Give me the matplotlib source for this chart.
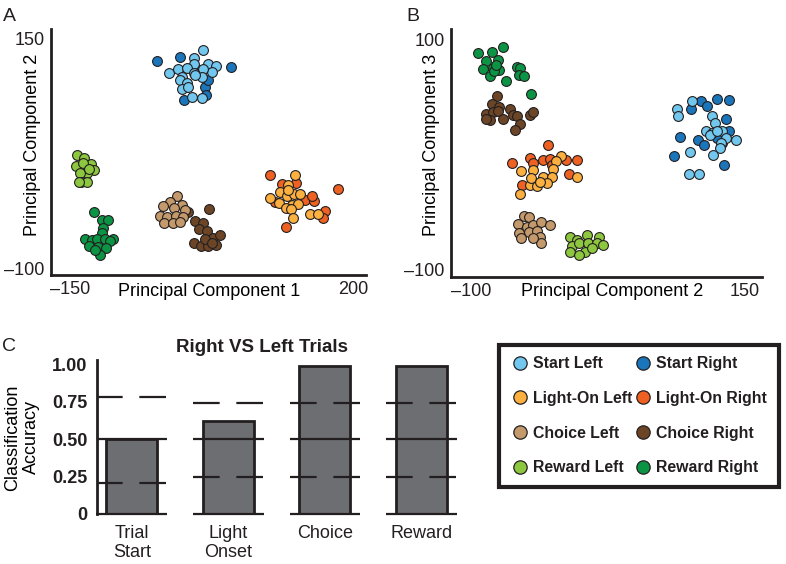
import matplotlib
matplotlib.use("Agg")
import numpy as np
import matplotlib.pyplot as plt
from matplotlib.lines import Line2D

ink = '#231f20'
plt.rcParams['font.family'] = ['Liberation Sans', 'DejaVu Sans']
plt.rcParams['text.color'] = ink
plt.rcParams['axes.edgecolor'] = ink
plt.rcParams['xtick.color'] = ink
plt.rcParams['ytick.color'] = ink
plt.rcParams['lines.scale_dashes'] = False

# condition names and colours (Left / Right pairs)
conditions = ['Start', 'Light-On', 'Choice', 'Reward']
left_colors = ['#72c7ef', '#fbb040', '#c49a6c', '#8dc63f']
right_colors = ['#1b75bb', '#ef6123', '#6b4526', '#0b9444']

# panel A: PC1 vs PC2  (x, y) per trial
a_start_left = [(14, 137), (3, 128), (3, 122), (21, 122), (31, 120), (25, 113), (-28, 112), (-16, 116),
                (-6, 117), (15, 116), (-12, 108), (3, 112), (-14, 104), (-6, 101), (-12, 95), (-4, 97),
                (13, 108), (1, 86), (13, 85), (5, 110)]
a_start_right = [(-42, 125), (-14, 129), (49, 119), (17, 97), (18, 88), (-9, 83), (8, 115), (21, 104)]
a_light_left = [(128, 1), (119, -10), (110, -17), (97, -24), (108, -29), (118, -22), (127, -20), (134, -20),
                (125, -31), (132, -30), (117, -35), (123, -36), (126, -46), (147, -41), (157, -41), (120, -15)]
a_light_right = [(97, 1), (182, -14), (117, -55), (112, -9), (130, -8), (141, -26), (152, -27), (165, -38),
                 (163, -46), (104, -28), (149, -22)]
a_choice_left = [(-18, -22), (-26, -28), (-12, -31), (-35, -33), (-22, -35), (-8, -37), (-39, -43),
                 (-30, -45), (-19, -43), (-10, -45), (-34, -51), (-23, -51), (-14, -50)]
a_choice_right = [(-4, -39), (22, -36), (5, -49), (14, -51), (10, -58), (19, -60), (27, -67), (35, -64),
                  (3, -73), (12, -76), (21, -76), (31, -75), (17, -68), (25, -73)]
a_reward_left = [(-142, 23), (-133, 20), (-124, 13), (-121, 7), (-143, 11), (-134, 14), (-129, 3),
                 (-138, 3), (-137, -6), (-129, -6), (-139, -7), (-127, 8)]
a_reward_right = [(-121, -39), (-111, -48), (-103, -48), (-109, -56), (-110, -62), (-131, -69), (-123, -70),
                  (-117, -68), (-107, -68), (-97, -68), (-101, -71), (-127, -76), (-115, -77), (-105, -78),
                  (-113, -86), (-119, -80)]

# panel B: PC2 vs PC3
b_start_left = [(102, 46), (88, 39), (89, 33), (120, 33), (123, 27), (114, 20), (120, 18), (129, 20),
                (118, 17), (133, 14), (142, 12), (128, 10), (127, 5), (100, 2), (121, -1), (99, -17),
                (108, -17), (124, 20)]
b_start_right = [(110, 46), (115, 42), (124, 48), (135, 47), (101, 39), (133, 31), (91, 15), (107, 12),
                 (113, 8), (85, -2), (131, -9), (135, 20), (124, 14), (129, 10)]
b_light_left = [(-18, -2), (-22, -6), (-54, -15), (-43, -14), (-34, -20), (-25, -13), (-26, -20), (-3, -20),
                (-46, -27), (-40, -28), (-31, -25), (-55, -35), (-45, -21), (-37, -24)]
b_light_right = [(-30, 8), (-63, -8), (-46, -3), (-34, -5), (-28, -4), (-13, -5), (-3, -5), (-11, -17),
                 (-53, -27), (-26, -9), (-43, -8)]
b_choice_left = [(-52, -54), (-47, -55), (-57, -61), (-49, -63), (-43, -62), (-36, -59), (-28, -62),
                 (-56, -69), (-47, -68), (-40, -67), (-54, -73), (-37, -72), (-36, -77), (-43, -73)]
b_choice_right = [(-76, 51), (-81, 44), (-74, 41), (-86, 35), (-80, 37), (-83, 30), (-75, 38), (-71, 31),
                  (-64, 39), (-62, 34), (-58, 33), (-55, 26), (-60, 21), (-46, 34), (-43, 37), (-86, 31)]
b_reward_left = [(-10, -72), (-3, -75), (6, -70), (17, -72), (-8, -80), (-1, -77), (7, -77), (15, -77),
                 (20, -79), (-10, -85), (4, -85), (-1, -88), (10, -82)]
b_reward_right = [(-94, 88), (-81, 89), (-71, 93), (-86, 81), (-75, 82), (-89, 74), (-80, 75), (-74, 73),
                  (-83, 68), (-79, 72), (-68, 64), (-58, 76), (-55, 75), (-56, 69), (-52, 68), (-45, 52),
                  (-77, 78)]

panel_a_left = [a_start_left, a_light_left, a_choice_left, a_reward_left]
panel_a_right = [a_start_right, a_light_right, a_choice_right, a_reward_right]
panel_b_left = [b_start_left, b_light_left, b_choice_left, b_reward_left]
panel_b_right = [b_start_right, b_light_right, b_choice_right, b_reward_right]

# panel C: classification accuracy
epochs = ['Trial\nStart', 'Light\nOnset', 'Choice', 'Reward']
accuracy = [0.50, 0.62, 0.99, 0.99]
chance_lo = [0.21, 0.25, 0.25, 0.25]
chance_hi = [0.785, 0.745, 0.745, 0.745]

fig = plt.figure(figsize=(7.86, 5.64), dpi=100)


def scatter_panel(ax, lefts, rights):
    for i in range(len(conditions)):
        r = np.array(rights[i])
        l = np.array(lefts[i])
        ax.scatter(r[:, 0], r[:, 1], s=50, c=right_colors[i], edgecolors=ink, linewidths=0.8, zorder=2)
        ax.scatter(l[:, 0], l[:, 1], s=50, c=left_colors[i], edgecolors=ink, linewidths=0.8, zorder=2)
    for side in ['top', 'right']:
        ax.spines[side].set_visible(False)
    for side in ['left', 'bottom']:
        ax.spines[side].set_linewidth(2)
    ax.tick_params(length=0, labelsize=13, pad=4.5)


# ---- A
ax_a = fig.add_axes([0.0645, 0.5124, 0.4011, 0.4362])
scatter_panel(ax_a, panel_a_left, panel_a_right)
ax_a.set_xlim(-174, 216)
ax_a.set_ylim(-107.6, 159.8)
ax_a.set_xticks([-150, 200], ['\u2013150', '200'])
ax_a.set_yticks([-100, 150], ['\u2013100', '150'])
ax_a.set_xlabel('Principal Component 1', fontsize=13, va='center')
ax_a.xaxis.set_label_coords(0.502, -0.068)
ax_a.set_ylabel('Principal Component 2', fontsize=13, va='center')
ax_a.yaxis.set_label_coords(-0.0593, 0.528)

# ---- B
ax_b = fig.add_axes([0.5738, 0.5094, 0.3953, 0.4392])
scatter_panel(ax_b, panel_b_left, panel_b_right)
ax_b.set_xlim(-118.2, 165.2)
ax_b.set_ylim(-106.7, 109)
ax_b.set_xticks([-100, 150], ['\u2013100', '150'])
ax_b.set_yticks([-100, 100], ['\u2013100', '100'])
ax_b.set_xlabel('Principal Component 2', fontsize=13, va='center')
ax_b.xaxis.set_label_coords(0.517, -0.061)
ax_b.set_ylabel('Principal Component 3', fontsize=13, va='center')
ax_b.yaxis.set_label_coords(-0.062, 0.532)

# ---- C
ax_c = fig.add_axes([0.123, 0.0887, 0.4622, 0.273])
x = np.arange(len(epochs))
ax_c.bar(x, accuracy, width=0.53, color='#6d6e71', edgecolor=ink, linewidth=2, zorder=2)
half = 0.365
ax_c.hlines([0] * len(x), x - half, x + half, colors=ink, linewidth=1.6, zorder=3, clip_on=False)
ax_c.hlines([0.5] * len(x), x - half, x + half, colors=ink, linewidth=1.6, zorder=3)
ax_c.hlines(chance_lo, x - half, x + half, colors=ink, linewidth=1.6, zorder=3,
            linestyles=[(0, (19.2, 12.0))])
ax_c.hlines(chance_hi, x - half, x + half, colors=ink, linewidth=1.6, zorder=3,
            linestyles=[(0, (19.2, 12.0))])
ax_c.set_xlim(-0.363, 3.40)
ax_c.set_ylim(0, 1.031)
for side in ['top', 'right', 'bottom']:
    ax_c.spines[side].set_visible(False)
ax_c.spines['left'].set_linewidth(2)
ax_c.set_yticks([0, 0.25, 0.5, 0.75, 1.0], ['0', '0.25', '0.50', '0.75', '1.00'],
                fontweight='bold')
ax_c.set_xticks(x, epochs, linespacing=1.15)
ax_c.tick_params(axis='y', length=0, labelsize=13, pad=6.5)
ax_c.tick_params(axis='x', length=0, labelsize=13, pad=8)
ax_c.set_ylabel('Classification\nAccuracy', fontsize=13, va='center', linespacing=1.2)
ax_c.yaxis.set_label_coords(-0.2056, 0.497)
ax_c.text(0.456, 1.078, 'Right VS Left Trials', transform=ax_c.transAxes, ha='center', va='center',
          fontsize=13.5, fontweight='bold')

# ---- legend
handles = []
for i, cond in enumerate(conditions):
    handles.append(Line2D([], [], ls='none', marker='o', markersize=9.6, markerfacecolor=left_colors[i],
                          markeredgecolor=ink, markeredgewidth=0.9, label=cond + ' Left'))
for i, cond in enumerate(conditions):
    handles.append(Line2D([], [], ls='none', marker='o', markersize=9.6, markerfacecolor=right_colors[i],
                          markeredgecolor=ink, markeredgewidth=0.9, label=cond + ' Right'))
leg = fig.legend(handles=handles, ncol=2, loc='upper left', bbox_to_anchor=(499 / 786, 1 - 344.7 / 564),
                 frameon=True, fancybox=False, edgecolor=ink, framealpha=1, borderpad=0.72,
                 labelspacing=1.25, handlelength=1.25, handletextpad=0.2, columnspacing=0.05,
                 prop={'weight': 'bold', 'size': 11.4}, borderaxespad=0)
leg.get_frame().set_linewidth(3)

# panel letters
fig.text(3.3 / 786, 1 - 20.7 / 564, 'A', fontsize=14, va='baseline')
fig.text(406 / 786, 1 - 20.7 / 564, 'B', fontsize=14, va='baseline')
fig.text(1.7 / 786, 1 - 350.7 / 564, 'C', fontsize=14, va='baseline')

fig.savefig('out.png', dpi=100)
